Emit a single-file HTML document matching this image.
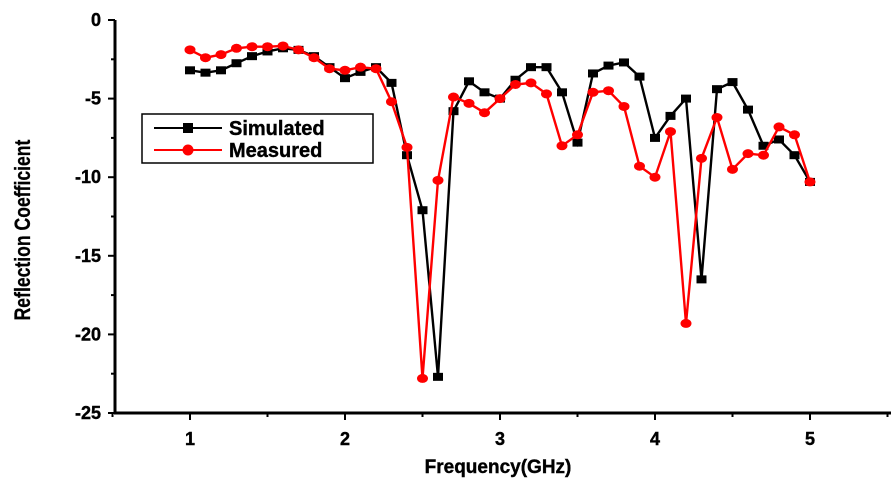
<!DOCTYPE html>
<html><head><meta charset="utf-8"><style>
html,body{margin:0;padding:0;background:#fff;}
svg{display:block;font-family:"Liberation Sans",Arial,sans-serif;font-weight:bold;}
</style></head><body>
<svg id="s" width="895" height="481" viewBox="0 0 895 481" xmlns="http://www.w3.org/2000/svg">
<line x1="115" y1="20" x2="115" y2="414" stroke="#000" stroke-width="3"/>
<line x1="114" y1="413" x2="891" y2="413" stroke="#000" stroke-width="3"/>
<g id="ticks" stroke="#000" stroke-width="2"></g>
<g font-size="18" text-anchor="end" id="ylab" stroke="#000" stroke-width="0.4"></g>
<g font-size="18" text-anchor="middle" id="xlab" stroke="#000" stroke-width="0.4"></g>
<text x="498" y="473" font-size="19" text-anchor="middle" stroke="#000" stroke-width="0.4">Frequency(GHz)</text>
<text transform="translate(30,230) rotate(-90) scale(0.8,1)" font-size="22" text-anchor="middle" stroke="#000" stroke-width="0.3">Reflection Coefficient</text>
<g id="series"></g>
<rect x="142" y="114" width="231" height="49" fill="#fff" stroke="#000" stroke-width="1.5"/>
<line x1="154" y1="128" x2="222" y2="128" stroke="#000" stroke-width="2"/>
<rect x="183" y="123" width="10" height="10" fill="#000"/>
<line x1="154" y1="150" x2="222" y2="150" stroke="red" stroke-width="2"/>
<circle cx="188" cy="150" r="5.5" fill="red"/>
<text x="229" y="135" font-size="20" stroke="#000" stroke-width="0.4">Simulated</text>
<text x="229" y="157" font-size="20" stroke="#000" stroke-width="0.4">Measured</text>
</svg>
<script>
const NS="http://www.w3.org/2000/svg";
const X=f=>190+(f-1)*155, Y=v=>20+(-v)*15.72;
function el(p,t,a,txt){const e=document.createElementNS(NS,t);for(const k in a)e.setAttribute(k,a[k]);if(txt!==undefined)e.textContent=txt;document.getElementById(p).appendChild(e);return e;}
for(let v=0;v>=-25;v-=2.5){const y=Y(v);const maj=v%5===0;el("ticks","line",{x1:115-(maj?7:4),y1:y,x2:115,y2:y});if(maj)el("ylab","text",{x:101,y:y+6},String(v));}
for(let f=0.5;f<=5.6;f+=0.5){const x=X(f);const maj=Math.abs(f-Math.round(f))<1e-6;el("ticks","line",{x1:x,y1:413,x2:x,y2:413+(maj?7:4)});if(maj&&f>=1)el("xlab","text",{x:x,y:445},String(f));}
const sim=[-3.2,-3.35,-3.2,-2.75,-2.3,-2.0,-1.8,-1.9,-2.3,-3.0,-3.7,-3.3,-3.0,-4.0,-8.6,-12.1,-22.7,-5.8,-3.9,-4.6,-5.0,-3.8,-3.0,-3.0,-4.6,-7.8,-3.4,-2.9,-2.7,-3.6,-7.5,-6.1,-5.0,-16.5,-4.4,-3.95,-5.7,-8.0,-7.6,-8.6,-10.3];
const mea=[-1.9,-2.4,-2.2,-1.8,-1.7,-1.7,-1.65,-1.9,-2.4,-3.1,-3.2,-3.0,-3.1,-5.2,-8.1,-22.8,-10.2,-4.9,-5.3,-5.9,-5.0,-4.1,-4.0,-4.7,-8.0,-7.3,-4.6,-4.5,-5.5,-9.3,-10.0,-7.1,-19.3,-8.8,-6.2,-9.5,-8.5,-8.6,-6.8,-7.3,-10.3];
function draw(d,c,sq){const pts=d.map((v,i)=>X(1+i*0.1).toFixed(1)+","+Y(v).toFixed(1)).join(" ");
el("series","polyline",{points:pts,fill:"none",stroke:c,"stroke-width":2.4});
d.forEach((v,i)=>{const x=X(1+i*0.1),y=Y(v);if(sq)el("series","rect",{x:x-5,y:y-4,width:10,height:8,fill:c});else el("series","ellipse",{cx:x,cy:y,rx:5.5,ry:4.5,fill:c});});}
draw(sim,"#000",true);draw(mea,"red",false);
</script>
</body></html>
